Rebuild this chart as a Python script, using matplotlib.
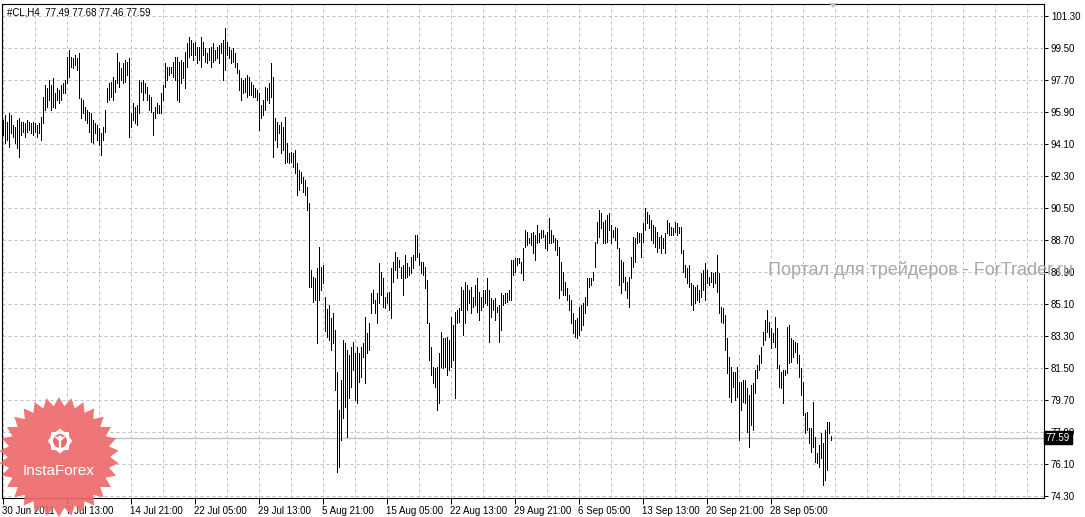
import numpy as np
import matplotlib
matplotlib.use("Agg")
import matplotlib.pyplot as plt
from matplotlib.patches import Polygon, Circle
import matplotlib.transforms as mtransforms

# H4 bars of #CL (high / low per bar)
symbol = "#CL,H4"
last_ohlc = [77.49, 77.68, 77.46, 77.59]

highs = [
    95.45, 95.73, 95.36, 95.83, 95.73, 95.17, 95.08, 95.45, 95.54, 95.36,
    95.36, 95.26, 95.45, 95.36, 95.26, 95.36, 95.26, 95.17, 95.26, 95.64,
    96.76, 97.42, 97.23, 97.70, 97.42, 97.79, 96.95, 97.23, 97.14, 97.42,
    97.51, 97.70, 99.01, 99.39, 99.01, 98.92, 99.11, 98.92, 99.20, 96.67,
    96.58, 96.20, 96.01, 95.92, 95.83, 95.45, 95.26, 95.17, 94.98, 94.70,
    95.08, 96.01, 97.23, 97.51, 97.61, 97.89, 97.70, 99.20, 98.73, 98.36,
    98.64, 98.83, 98.73, 98.92, 95.83, 96.39, 96.20, 96.29, 97.70, 97.61,
    97.70, 97.51, 97.33, 96.86, 96.76, 95.92, 96.20, 96.39, 96.29, 96.95,
    97.42, 98.64, 98.45, 98.45, 98.45, 98.73, 99.01, 99.01, 98.73, 98.83,
    98.73, 99.29, 99.76, 100.14, 99.95, 99.76, 99.86, 99.58, 99.58, 100.14,
    99.86, 99.48, 99.20, 99.48, 99.58, 99.76, 99.39, 99.58, 99.67, 99.76,
    99.95, 100.61, 99.86, 99.58, 99.39, 99.48, 99.20, 98.64, 98.26, 97.79,
    97.70, 97.79, 97.98, 97.89, 97.61, 97.42, 97.23, 97.14, 96.95, 96.29,
    96.58, 97.33, 97.23, 97.51, 98.64, 97.89, 95.54, 95.36, 95.17, 95.36,
    95.08, 95.64, 94.16, 93.60, 93.65, 93.60, 93.76,
    93.03, 92.64, 92.53, 92.25, 92.08, 91.68, 90.78, 87.00, 86.62, 86.56,
    87.13, 88.30, 87.20, 87.30, 85.50, 84.80, 85.05, 84.30, 84.60, 83.64,
    81.28, 79.14, 80.83, 83.08, 82.91, 82.50, 82.23, 82.68, 82.96, 82.35,
    82.68, 82.35, 82.68, 82.91, 84.37, 83.47, 84.03, 85.72, 85.89, 85.33,
    85.72, 87.41, 86.90, 86.56, 85.50, 85.72, 85.78, 87.13, 87.46, 88.03,
    87.74, 87.58, 87.19, 87.30, 87.86, 87.41, 87.19, 87.74, 87.86, 88.98,
    88.98, 87.97,
    87.46, 87.46, 87.19, 86.45, 84.03, 82.68, 81.56, 81.50, 81.56, 82.35,
    83.53, 83.19, 83.19, 83.25, 83.08, 84.37, 83.92, 84.65, 84.76, 84.88,
    86.06, 85.89, 86.34, 86.17, 85.89, 86.06, 85.50, 86.17, 86.56, 85.78,
    85.50, 85.89, 85.89, 86.56, 85.89, 85.44, 85.33, 85.44, 84.93, 85.05,
    85.72, 85.60, 85.72, 85.72, 85.89, 87.58, 87.58, 87.69, 87.69, 87.69,
    87.46, 88.25, 89.26, 89.15, 88.81, 89.09, 89.15, 88.98, 89.54, 89.09,
    89.26, 89.26, 88.98, 89.15, 89.94, 89.26, 88.98, 88.81, 88.70, 88.30,
    87.46, 86.90, 86.34, 86.00, 85.60, 85.33, 84.60, 84.20, 84.31, 84.93,
    85.05, 85.16, 85.50, 86.56, 86.56, 86.56, 86.90, 88.59, 89.71, 90.39,
    90.22, 89.71, 89.83, 90.11, 90.22, 89.54, 89.26, 89.43, 89.37, 88.25,
    87.58, 87.46, 86.62, 86.34, 86.62, 87.74, 88.87, 88.81, 89.15, 89.09,
    89.09, 89.66, 90.50, 90.28, 90.11, 89.83, 89.54, 89.43, 89.15, 88.87,
    88.98, 88.81, 89.09, 89.83, 89.66, 89.43, 89.37, 89.71, 89.66, 89.43,
    89.43, 88.14, 87.30, 87.13, 87.30, 86.28, 86.17, 86.06, 86.17,
    85.89, 86.85, 87.02, 87.41, 87.02, 86.62, 86.90, 86.85, 86.90, 87.86,
    86.85, 84.93, 84.88, 84.48, 83.19, 82.12, 81.56, 81.28, 81.28, 81.56,
    80.71, 80.71, 80.83, 80.83, 80.38, 79.98, 80.54, 80.66, 81.39, 81.67,
    82.23, 82.68, 83.53, 84.20, 84.76, 84.09, 83.75, 83.47, 84.37, 83.75,
    81.67, 81.28, 81.39, 81.39, 83.81, 83.92, 83.19, 83.08, 82.96, 82.91,
    82.23, 81.50, 80.71, 78.97, 79.03, 78.13, 78.13, 79.59, 77.62, 76.72,
    77.17, 77.85, 77.28, 78.02, 78.47, 78.47, 77.68,
]

lows = [
    94.61, 94.14, 94.33, 93.95, 94.70, 94.51, 94.14, 93.86, 93.39, 94.61,
    94.79, 94.51, 94.79, 94.89, 94.70, 94.61, 94.79, 94.51, 94.70, 94.33,
    95.26, 96.01, 96.20, 96.58, 96.01, 96.20, 96.11, 96.58, 96.39, 96.58,
    96.95, 96.95, 97.51, 97.89, 98.45, 98.36, 98.54, 98.26, 96.67, 95.54,
    95.83, 95.45, 95.26, 94.79, 94.23, 94.14, 94.70, 94.33, 94.04, 93.48,
    94.33, 94.79, 96.48, 96.58, 96.76, 96.58, 97.04, 97.51, 97.33, 97.70,
    97.51, 97.61, 97.98, 94.51, 95.08, 95.45, 95.26, 95.17, 95.83, 97.04,
    96.58, 96.95, 96.58, 96.01, 95.92, 94.61, 95.54, 95.83, 95.83, 95.83,
    96.58, 97.33, 97.70, 97.98, 98.08, 97.89, 97.70, 96.58, 96.48, 97.51,
    97.79, 97.23, 98.45, 99.01, 99.11, 98.83, 99.11, 98.64, 98.83, 98.45,
    99.11, 98.73, 98.64, 98.83, 98.45, 98.73, 98.83, 98.92, 98.64, 99.20,
    97.70, 98.26, 99.11, 98.92, 98.64, 98.73, 98.45, 98.08, 97.14, 96.58,
    96.95, 97.04, 96.76, 96.86, 96.86, 96.76, 96.76, 96.58, 94.89, 95.54,
    95.73, 96.01, 96.58, 96.39, 96.76, 93.39, 94.33, 93.95, 94.70, 93.58,
    93.76, 93.01, 93.09, 93.03, 93.09, 92.81, 92.47,
    91.23, 91.51, 91.90, 91.40, 91.23, 90.39, 86.06, 86.06, 85.21, 85.33,
    82.91, 85.33, 85.90, 86.30, 83.60, 83.25, 83.10, 82.50, 82.90, 80.26,
    75.65, 75.93, 77.45, 78.69, 79.30, 77.60, 79.82, 80.43, 81.39, 79.70,
    79.53, 80.71, 80.99, 82.12, 80.66, 82.35, 82.50, 84.60, 85.16, 84.60,
    84.03, 85.16, 85.60, 84.93, 84.88, 85.16, 84.76, 84.31, 86.34, 87.00,
    86.56, 87.19, 86.56, 85.60, 86.56, 86.62, 86.73, 86.85, 87.13, 87.58,
    87.74, 87.30,
    86.85, 86.73, 86.00, 84.03, 81.95, 81.11, 80.66, 80.43, 79.14, 79.53,
    81.56, 81.50, 81.56, 81.11, 81.39, 81.56, 81.95, 79.82, 84.03, 84.09,
    84.76, 83.36, 84.03, 84.76, 85.16, 84.60, 84.93, 85.05, 84.65, 84.20,
    84.76, 84.93, 85.16, 85.05, 82.96, 84.37, 84.76, 84.20, 84.65, 82.96,
    83.64, 85.05, 85.16, 85.21, 85.33, 85.33, 86.73, 86.90, 87.30, 87.41,
    86.85, 86.45, 88.30, 88.42, 88.53, 88.42, 87.97, 87.58, 88.53, 88.59,
    88.81, 88.87, 88.25, 88.14, 88.53, 88.53, 88.59, 88.14, 87.86, 85.44,
    85.89, 85.60, 85.60, 85.33, 84.76, 84.03, 83.47, 83.25, 83.19, 83.36,
    83.64, 83.92, 84.60, 85.05, 86.06, 86.17, 86.45, 87.19, 88.53, 88.87,
    89.38, 88.53, 88.53, 88.59, 89.26, 88.53, 88.87, 88.70, 88.25, 86.17,
    85.72, 86.34, 85.89, 85.44, 84.93, 86.56, 87.19, 87.46, 88.53, 88.59,
    87.74, 88.59, 89.26, 89.66, 89.37, 88.70, 88.53, 88.30, 88.03, 88.25,
    87.97, 88.25, 87.97, 89.09, 88.98, 88.98, 88.98, 89.15, 88.98, 89.09,
    87.97, 86.90, 86.62, 86.28, 86.06, 85.05, 84.76, 85.16, 85.33,
    85.21, 85.50, 85.89, 85.33, 86.28, 86.17, 86.34, 86.06, 86.28, 85.78,
    84.60, 84.09, 84.03, 82.51, 81.22, 79.87, 79.59, 80.43, 79.70, 79.87,
    77.45, 79.14, 79.59, 79.53, 77.90, 77.06, 78.30, 78.02, 80.10, 80.94,
    81.39, 81.78, 82.80, 83.08, 83.53, 83.25, 82.63, 82.96, 82.68, 81.50,
    80.43, 80.38, 79.53, 81.11, 81.22, 81.78, 81.84, 82.12, 82.40, 81.78,
    80.99, 79.98, 78.86, 77.85, 78.02, 77.28, 76.78, 77.06, 76.22, 76.16,
    75.93, 76.44, 74.92, 75.20, 75.76, 77.85, 77.46,
]

date_labels = ["30 Jun 2011", "7 Jul 13:00", "14 Jul 21:00", "22 Jul 05:00",
               "29 Jul 13:00", "5 Aug 21:00", "15 Aug 05:00", "22 Aug 13:00",
               "29 Aug 21:00", "6 Sep 05:00", "13 Sep 13:00", "20 Sep 21:00",
               "28 Sep 05:00"]
price_ticks = [101.30, 99.50, 97.70, 95.90, 94.10, 92.30, 90.50, 88.70,
               86.90, 85.10, 83.30, 81.50, 79.70, 77.90, 76.10, 74.30]

W, H = 1085, 517
FONT = "Liberation Sans"
GRID = "#c0c0c0"

fig = plt.figure(figsize=(W / 100, H / 100), dpi=100)
fig.patch.set_facecolor("white")

# chart area in pixels: x 2..1044, y 4..498
ax = fig.add_axes([2 / W, 1 - 498 / H, 1042 / W, 494 / H])
ax.set_facecolor("white")

x = np.arange(len(highs))
ax.vlines(x, lows, highs, color="black", lw=0.5, antialiased=False, zorder=3)

ax.set_xlim(-0.25, 520.75)      # 2 px per bar, bars on pixel centres
ax.set_ylim(74.19, 101.975)

ax.axhline(last_ohlc[3], color=GRID, lw=1.0, zorder=2)

# axes / ticks
ax.yaxis.tick_right()
ax.set_yticks(price_ticks)
ax.set_yticklabels(["%.2f" % p for p in price_ticks], fontfamily=FONT, fontsize=7)
ax.set_xticks(np.arange(0, 32 * len(date_labels), 32))
ax.set_xticklabels(date_labels, fontfamily=FONT, fontsize=7, ha="left")
ax.set_xticks(np.arange(0, 521, 16), minor=True)
ax.tick_params(axis="y", direction="out", length=3, width=0.7, pad=2, colors="black")
ax.tick_params(axis="x", which="major", direction="out", length=4, width=0.7, pad=2)
ax.tick_params(axis="x", which="minor", length=0)

ax.set_axisbelow(True)
ax.grid(True, axis="y", color=GRID, lw=0.72, linestyle=(0, (3, 3)))
ax.grid(True, axis="x", which="both", color=GRID, lw=0.72, linestyle=(0, (3, 3)))
for s in ax.spines.values():
    s.set_color("black")
    s.set_linewidth(0.8)

ax.text(0.0048, 0.982, "%s  %.2f %.2f %.2f %.2f" % ((symbol,) + tuple(last_ohlc)),
        transform=ax.transAxes, fontfamily=FONT, fontsize=7, va="center", ha="left")

# last price box on the price scale
trans = mtransforms.blended_transform_factory(ax.transAxes, ax.transData)
ax.text(1.0015, last_ohlc[3], "%.2f" % last_ohlc[3], transform=trans,
        fontfamily=FONT, fontsize=7, color="white", ha="left", va="center",
        bbox=dict(boxstyle="square,pad=0.2", fc="black", ec="black"), zorder=10)

# overlay in pixel units for the decorations
ov = fig.add_axes([0, 0, 1, 1], zorder=5)
ov.set_xlim(0, W)
ov.set_ylim(H, 0)
ov.axis("off")
ov.patch.set_alpha(0)

# chart shift marker
ov.add_patch(Polygon([(829, 3), (837, 3), (833, 8)], closed=True, fc=GRID, ec="none"))

# watermark
ov.text(768, 270, "Портал для трейдеров - ForTrader.ru", fontfamily=FONT,
        fontsize=13, color="#a8a8a8", ha="left", va="center")

# InstaForex badge
cx, cy = 59, 457
n = 30
ang = np.pi * np.arange(2 * n) / n - np.pi / 2
rad = np.where(np.arange(2 * n) % 2 == 0, 60, 51)
ov.add_patch(Polygon(np.c_[cx + rad * np.cos(ang), cy + rad * np.sin(ang)],
                     closed=True, fc="#ee6a6a", ec="none", alpha=0.92))
gx, gy = 60, 441
ga = np.pi * np.arange(16) / 8
gr = np.where(np.arange(16) % 2 == 0, 12.5, 10)
ov.add_patch(Polygon(np.c_[gx + gr * np.cos(ga), gy + gr * np.sin(ga)],
                     closed=True, fc="white", ec="none"))
ov.add_patch(Circle((gx, gy), 7, fc="#ee6a6a", ec="none"))
ov.add_patch(Circle((gx, gy - 3.5), 2, fc="white", ec="none"))
ov.plot([gx, gx], [gy - 1, gy + 7], color="white", lw=1.6)
ov.plot([gx - 4, gx, gx + 4], [gy - 4, gy, gy - 4], color="white", lw=1.2)
ov.text(59, 471, "InstaForex", fontfamily=FONT, fontsize=11, color="white",
        ha="center", va="center")

fig.savefig("out.png", dpi=100)
